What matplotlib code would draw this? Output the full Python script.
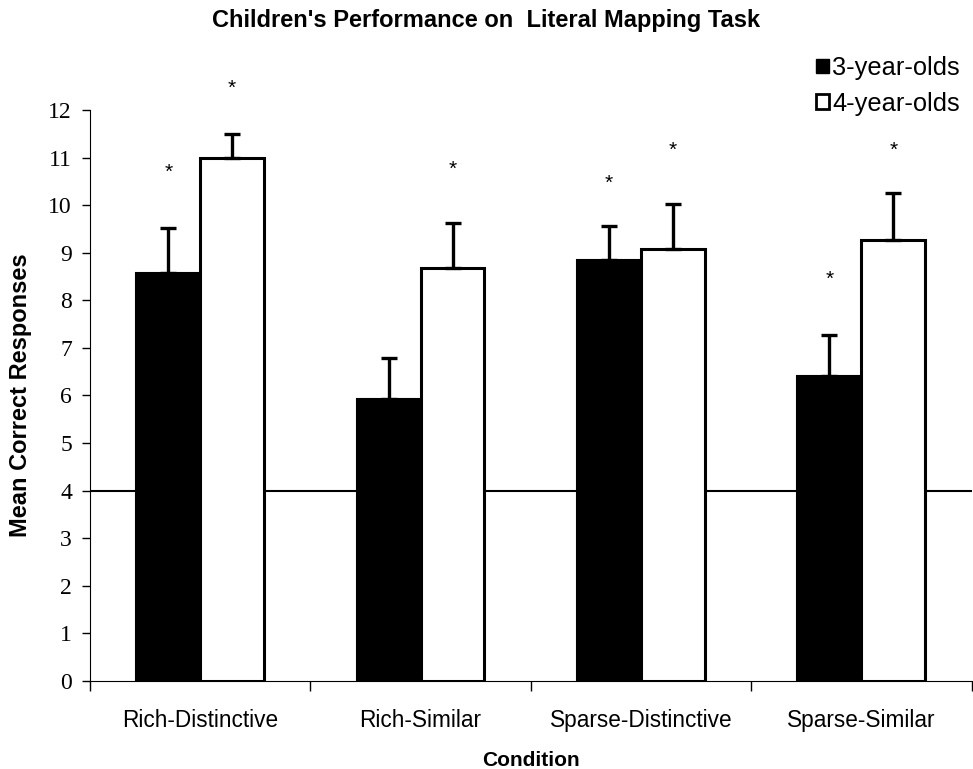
import numpy as np
import matplotlib
matplotlib.use("Agg")
import matplotlib.pyplot as plt
from matplotlib.patches import Patch

# values
conditions = ["Rich-Distinctive", "Rich-Similar", "Sparse-Distinctive", "Sparse-Similar"]
three_means = [8.57, 5.93, 8.85, 6.42]
three_err = [0.95, 0.85, 0.72, 0.86]
four_means = [11.0, 8.68, 9.08, 9.27]
four_err = [0.50, 0.94, 0.95, 0.98]
# significance stars (None = no star)
three_star = [10.7, None, 10.45, 8.45]
four_star = [12.45, 10.75, 11.15, 11.15]
chance_level = 4

plt.rcParams['font.family'] = ['Liberation Sans', 'DejaVu Sans']

fig = plt.figure(figsize=(9.73, 7.69), dpi=100)
ax = fig.add_axes([0.0925, 0.1144, 0.906, 0.7426])

x = np.arange(len(conditions))
w = 0.29
ax.bar(x - w / 2, three_means, w, color='black', edgecolor='black', linewidth=1.5, zorder=2)
ax.bar(x + w / 2, four_means, w, color='white', edgecolor='black', linewidth=2.2, zorder=2)
ax.errorbar(x - w / 2, three_means, yerr=[np.zeros(4), three_err], fmt='none',
            ecolor='black', elinewidth=2.4, capsize=5.5, capthick=2.4, zorder=3)
ax.errorbar(x + w / 2, four_means, yerr=[np.zeros(4), four_err], fmt='none',
            ecolor='black', elinewidth=2.4, capsize=5.5, capthick=2.4, zorder=3)

for i in range(len(conditions)):
    if three_star[i] is not None:
        ax.text(x[i] - w / 2, three_star[i], "*", ha='center', va='center', fontsize=15)
    if four_star[i] is not None:
        ax.text(x[i] + w / 2, four_star[i], "*", ha='center', va='center', fontsize=15)

ax.axhline(chance_level, color='black', linewidth=1.5, zorder=1)

ax.set_xlim(-0.5, 3.5)
ax.set_ylim(0, 12)
ax.set_yticks(range(0, 13))
ax.set_yticklabels([str(v) for v in range(0, 13)], family='Liberation Serif', fontsize=17)
ax.set_xticks(np.arange(-0.5, 4, 1))
ax.set_xticklabels([])
ax.set_xticks(x, minor=True)
ax.set_xticklabels(conditions, minor=True, fontsize=16.3)
ax.tick_params(axis='x', which='minor', length=0, pad=20)
ax.tick_params(axis='x', which='major', length=7, width=1, direction='out')
ax.tick_params(axis='y', length=6, width=1, direction='out', pad=7)
ax.spines['top'].set_visible(False)
ax.spines['right'].set_visible(False)

ax.set_xlabel("Condition", fontsize=15, fontweight='bold', labelpad=14)
ax.set_ylabel("Mean Correct Responses", fontsize=17, fontweight='bold', labelpad=12)
fig.text(0.5, 0.973, "Children's Performance on  Literal Mapping Task",
         ha='center', va='center', fontsize=17, fontweight='bold')

handles = [Patch(facecolor='black', edgecolor='black', label='3-year-olds'),
           Patch(facecolor='white', edgecolor='black', linewidth=2, label='4-year-olds')]
fig.legend(handles=handles, loc='upper right', bbox_to_anchor=(1.005, 0.95),
           frameon=False, fontsize=18.3, handlelength=0.5, handleheight=0.5,
           handletextpad=0.15, labelspacing=0.45, borderpad=0.2)

fig.savefig("out.png", dpi=100)
